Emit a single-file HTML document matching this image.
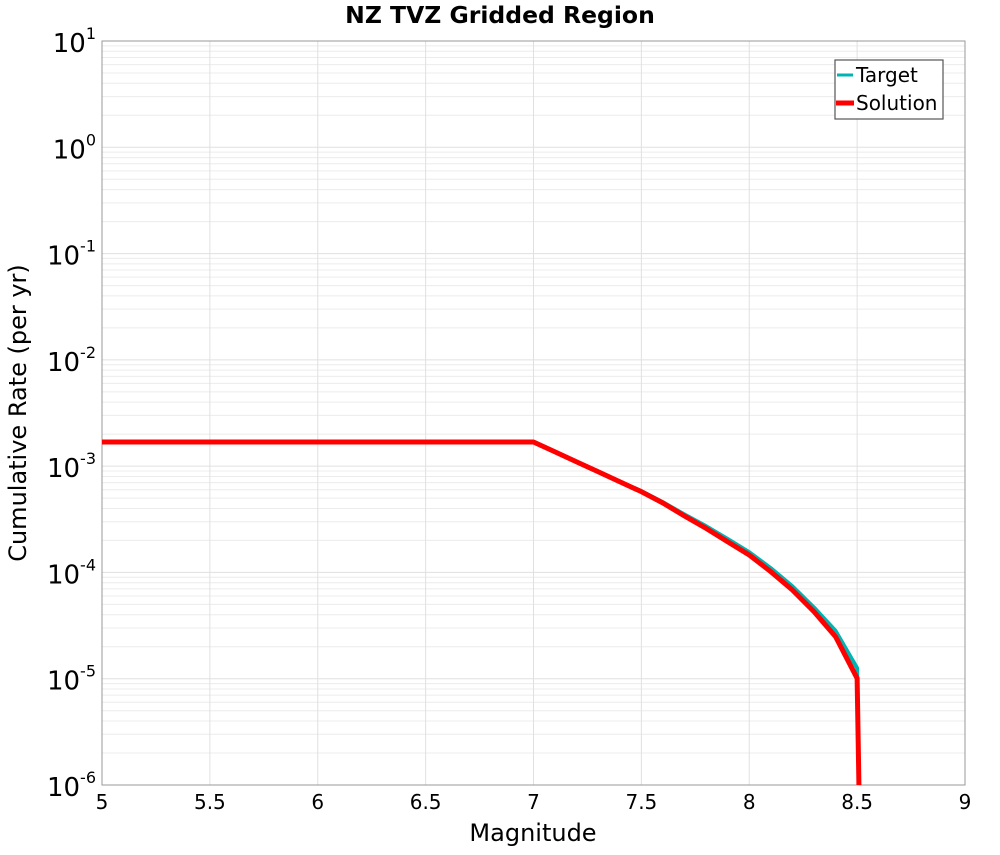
<!DOCTYPE html>
<html><head><meta charset="utf-8"><style>
body{margin:0;background:#fff;}
svg{font-family:"DejaVu Sans","Liberation Sans",sans-serif;}
</style></head><body>
<svg id="chart" width="1000" height="850" xmlns="http://www.w3.org/2000/svg">
<text x="500" y="23" text-anchor="middle" font-size="23.5" font-weight="bold">NZ TVZ Gridded Region</text>
<g id="grid"></g>
<g id="axes"></g>
<g id="series"></g>
<text x="533" y="841" text-anchor="middle" font-size="24">Magnitude</text>
<text transform="translate(26,413) rotate(-90)" text-anchor="middle" font-size="24">Cumulative Rate (per yr)</text>
<g>
<rect x="835" y="60" width="108" height="59" fill="#fff" stroke="#555" stroke-width="1.2"/>
<line x1="837" y1="75" x2="853" y2="75" stroke="#00b4b4" stroke-width="3"/>
<text x="856" y="82" font-size="20">Target</text>
<line x1="836" y1="103" x2="854" y2="103" stroke="#ff0000" stroke-width="5"/>
<text x="856" y="110" font-size="20">Solution</text>
</g>
</svg>
<script>
const mags = [5,7.0,7.1,7.2,7.3,7.4,7.5,7.6,7.7,7.8,7.9,8.0,8.1,8.2,8.3,8.4,8.5,8.51];
const targetLog = [-2.773,-2.773,-2.866,-2.96,-3.053,-3.147,-3.235,-3.34,-3.455,-3.565,-3.685,-3.81,-3.96,-4.13,-4.33,-4.55,-4.9,-6.2];
const solutionLog = [-2.773,-2.773,-2.866,-2.96,-3.053,-3.147,-3.24,-3.347,-3.469,-3.585,-3.711,-3.836,-3.993,-4.165,-4.369,-4.604,-4.996,-6.2];
const xTicks = ["5","5.5","6","6.5","7","7.5","8","8.5","9"];
const yExps = ["1","0","-1","-2","-3","-4","-5","-6"];
const X0=102,X1=965,Y0=41,Y1=785;
const xs=m=>X0+(m-5)/4*(X1-X0);
const ys=l=>Y0+(1-l)/7*(Y1-Y0);
const NS="http://www.w3.org/2000/svg";
function mk(t,a,p){const e=document.createElementNS(NS,t);for(const k in a)e.setAttribute(k,a[k]);p.appendChild(e);return e;}
const grid=document.getElementById('grid'),axes=document.getElementById('axes'),ser=document.getElementById('series');
for(let d=-6;d<1;d++)for(let k=2;k<10;k++){const y=ys(d+Math.log10(k));
const l=mk('line',{x1:X0,x2:X1,y1:y,y2:y,stroke:'#ececec','stroke-width':1},grid);

}
yExps.forEach(s=>{const y=ys(+s);
const l=mk('line',{x1:X0,x2:X1,y1:y,y2:y,stroke:'#e0e0e0','stroke-width':1},grid);


const t=mk('text',{x:X0-6,y:y+11,'text-anchor':'end','font-size':26},axes);


t.innerHTML='10<tspan dy="-13" font-size="16">'+s+'</tspan>';});
xTicks.forEach(s=>{const x=xs(+s);
const l=mk('line',{x1:x,x2:x,y1:Y0,y2:Y1,stroke:'#e0e0e0','stroke-width':1},grid);


const t=mk('text',{x:x,y:809,'text-anchor':'middle','font-size':20},axes);


t.textContent=s;});
const fr=mk('rect',{x:X0,y:Y0,width:X1-X0,height:Y1-Y0,fill:'none',stroke:'#999','stroke-width':1},axes);


const clip=mk('clipPath',{id:'cp'},ser);mk('rect',{x:X0,y:Y0,width:X1-X0,height:Y1-Y0},clip);
function line(vals,col,w,name){const p=mk('polyline',{points:mags.map((m,i)=>xs(m)+','+ys(vals[i])).join(' '),fill:'none',stroke:col,'stroke-width':w,'stroke-linejoin':'round','clip-path':'url(#cp)'},ser);

}
line(targetLog,'#00b4b4',4,'target-line');
line(solutionLog,'#ff0000',5,'solution-line');
</script>
</body></html>
